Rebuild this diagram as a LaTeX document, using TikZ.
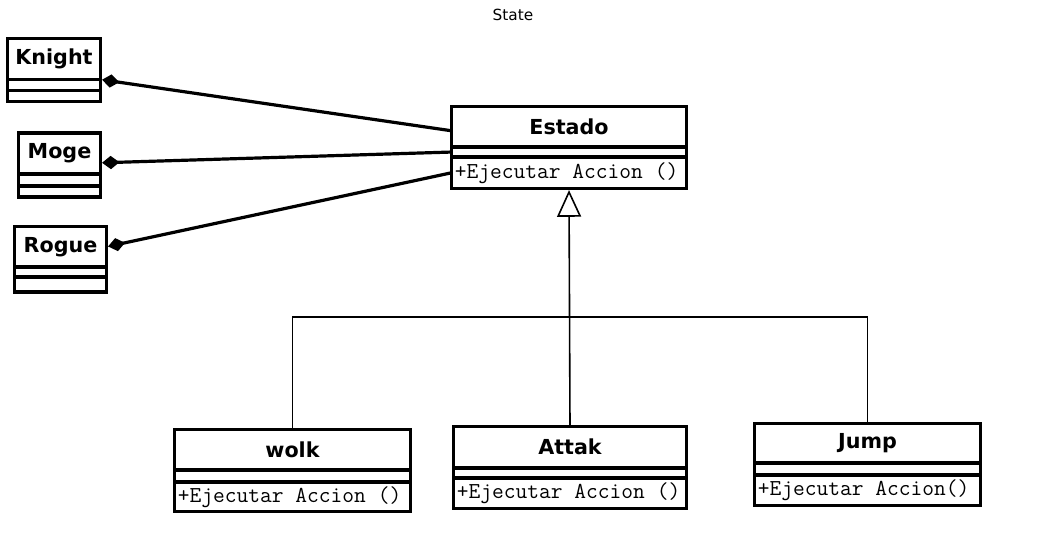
\documentclass[tikz,border=0pt]{standalone}
\usepackage{fontspec}
\setmainfont{DejaVu Sans}
\usetikzlibrary{positioning,arrows.meta}

\tikzset{
  cname/.style={draw, line width=2.4pt, outer sep=0pt, inner sep=0pt, anchor=north west,
    font=\bfseries\fontsize{15.5}{18}\selectfont},
  cattr/.style={draw, line width=2.4pt, outer sep=0pt, inner sep=0pt},
  cmeth/.style={draw, line width=2.4pt, outer sep=0pt, inner xsep=2.5pt, inner ysep=0pt,
    align=left, font=\ttfamily\fontsize{17.1}{19}\selectfont,
    execute at begin node={\spaceskip=0.525em\relax}},
  agg/.style={line width=2.4pt, shorten <=1.2pt, {Diamond[length=13pt,width=10pt]}-},
  gen/.style={line width=1.2pt, shorten >=1.2pt, -{Triangle[open,length=20pt,width=18pt]}},
  link/.style={line width=1.2pt}
}

\begin{document}
\begin{tikzpicture}[x=0.75pt,y=-0.75pt]
      \useasboundingbox (0,0) rectangle (1042,544);
      \node (title) at (513,15) {\fontsize{11.5}{13}\selectfont State};

      % client classes
      \node[cname, minimum width=69.75pt, minimum height=30.75pt] (knightn) at (7.5,38.5) {Knight};
      \node[cattr, minimum width=69.75pt, minimum height=8.25pt, below=0pt of knightn] (knighta) {};
      \node[cattr, minimum width=69.75pt, minimum height=8.25pt, below=0pt of knighta] (knightm) {};

      \node[cname, minimum width=61.5pt, minimum height=30.75pt] (mogen) at (18.5,133) {Moge};
      \node[cattr, minimum width=61.5pt, minimum height=9pt, below=0pt of mogen] (mogea) {};
      \node[cattr, minimum width=61.5pt, minimum height=8.25pt, below=0pt of mogea] (mogem) {};

      \node[cname, minimum width=69pt, minimum height=30.4pt] (roguen) at (14.5,226.5) {Rogue};
      \node[cattr, minimum width=69pt, minimum height=7.5pt, below=0pt of roguen] (roguea) {};
      \node[cattr, minimum width=69pt, minimum height=11.25pt, below=0pt of roguea] (roguem) {};

      % state classes
      \node[cname, minimum width=176.25pt, minimum height=30.4pt] (estadon) at (451.5,106.5) {Estado};
      \node[cattr, minimum width=176.25pt, minimum height=7.5pt, below=0pt of estadon] (estadoa) {};
      \node[cmeth, text width=171.25pt, minimum height=23.6pt, below=0pt of estadoa] (estadom) {+Ejecutar Accion ()};

      \node[cname, minimum width=177pt, minimum height=30.4pt] (wolkn) at (174.5,429.5) {wolk};
      \node[cattr, minimum width=177pt, minimum height=9pt, below=0pt of wolkn] (wolka) {};
      \node[cmeth, text width=172pt, minimum height=22.1pt, below=0pt of wolka] (wolkm) {+Ejecutar Accion ()};

      \node[cname, minimum width=174.75pt, minimum height=31.1pt] (attakn) at (453.5,426.5) {Attak};
      \node[cattr, minimum width=174.75pt, minimum height=7.5pt, below=0pt of attakn] (attaka) {};
      \node[cmeth, text width=169.75pt, minimum height=22.9pt, below=0pt of attaka] (attakm) {+Ejecutar Accion ()};

      \node[cname, minimum width=169.5pt, minimum height=29.6pt] (jumpn) at (754.5,423.5) {Jump};
      \node[cattr, minimum width=169.5pt, minimum height=9pt, below=0pt of jumpn] (jumpa) {};
      \node[cmeth, text width=164.5pt, minimum height=22.9pt, below=0pt of jumpa] (jumpm) {+Ejecutar Accion()};

      % composition
      \draw[agg] (knightn.south east) -- ([yshift=-3pt]estadon.west);
      \draw[agg] ([yshift=-7pt]mogen.east) -- (estadoa.west);
      \draw[agg] (roguen.east) -- (estadom.west);

      % generalization
      \draw[gen] (attakn.north) -- (estadom.south);
      \path (attakn.north) ++(0,-109.5) coordinate (bus);
      \draw[link] (wolkn.north) |- (bus) -| (jumpn.north);
\end{tikzpicture}
\end{document}
